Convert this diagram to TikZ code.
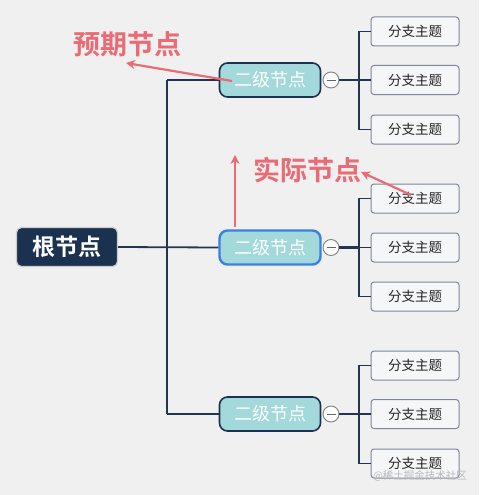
\documentclass[tikz,border=0pt]{standalone}
\usepackage{fontspec}
\newfontfamily\cjk{Noto Sans CJK SC}[BoldFont={* Bold}]
\usetikzlibrary{arrows.meta}
\definecolor{bg}{HTML}{F0F0F1}
\definecolor{navy}{HTML}{1B3150}
\definecolor{linec}{HTML}{24364F}
\definecolor{teal}{HTML}{A3D9DB}
\definecolor{blueb}{HTML}{3B7FE0}
\definecolor{branchb}{HTML}{7D8799}
\definecolor{branchf}{HTML}{F5F6F8}
\definecolor{redc}{HTML}{EA6B74}
\tikzset{
  rootbox/.style={draw=gray!40, line width=1.2pt, fill=navy, rounded corners=5pt, minimum width=101pt, minimum height=39pt, text=white, font=\cjk\bfseries\fontsize{23}{25}\selectfont, inner sep=0pt},
  secbox/.style={draw=navy, line width=1.6pt, fill=teal, rounded corners=8pt, minimum width=101pt, minimum height=34pt, text=white, font=\cjk\fontsize{18}{20}\selectfont, inner sep=0pt},
  actbox/.style={secbox, draw=blueb, line width=2.4pt},
  brbox/.style={draw=branchb, line width=1pt, fill=branchf, rounded corners=3pt, minimum width=88pt, minimum height=29pt, text=black!85, font=\cjk\fontsize{13.5}{15}\selectfont, inner sep=0pt},
  foldc/.style={circle, draw=gray, line width=0.9pt, fill=white, minimum size=16pt, inner sep=0pt},
  conn/.style={draw=linec, line width=1.8pt},
  redlab/.style={text=redc, font=\cjk\bfseries\fontsize{27}{29}\selectfont, inner sep=0pt},
  redarr/.style={draw=redc, line width=2.2pt, -{Stealth[length=9pt,width=9pt]}},
}
\begin{document}
\begin{tikzpicture}[x=1pt,y=-1pt]
\fill[bg] (0,0) rectangle (479,495);
\useasboundingbox (0,0) rectangle (479,495);

\node[rootbox] (root) at (67,247) {根节点};
\node[secbox] (s1) at (270,80) {二级节点};
\node[actbox] (s2) at (270,247.5) {二级节点};
\node[secbox] (s3) at (270,414) {二级节点};

\coordinate (t1) at (167,80);
\coordinate (t3) at (167,414);
\draw[conn] (root.east) -- (s2.west);
\draw[conn] (t1) -- (s1.west);
\draw[conn] (t3) -- (s3.west);
\draw[conn] (t1) -- (t3);

\foreach \i/\y/\a/\b/\c in {1/80/31.5/80/129.5, 2/247.5/198.5/247.5/296.5, 3/414/365.5/414/463.5}{
  \node[foldc] (f\i) at (331,\y) {};
  \draw[line width=1pt, gray!80!black] ([xshift=-4.5pt]f\i.center) -- ([xshift=4.5pt]f\i.center);
  \node[brbox] (b\i a) at (415,\a) {分支主题};
  \node[brbox] (b\i b) at (415,\b) {分支主题};
  \node[brbox] (b\i c) at (415,\c) {分支主题};
  \coordinate (j\i) at (359,\y);
  \draw[draw=linec, line width=2.6pt] (f\i.east) -- (j\i);
  \draw[conn] (b\i a.west) -| (j\i) |- (b\i c.west);
  \draw[conn] (j\i) -- (b\i b.west);
}

\node[redlab] (exp) at (127,44) {预期节点};
\node[redlab] (act) at (307,170) {实际节点};
\coordinate (e1) at (232,81);
\coordinate (e2) at (126,63);
\draw[redarr] (e1) -- (e2);
\coordinate (a1) at (235,227);
\coordinate (a2) at (235,155);
\draw[redarr] (a1) -- (a2);
\coordinate (c1) at (411,195);
\coordinate (c2) at (361,172);
\draw[redarr] (c1) -- (c2);

\node[text=gray!55, font=\cjk\fontsize{10.5}{12}\selectfont, inner sep=0pt] (wm) at (420,476) {@稀土掘金技术社区};
\end{tikzpicture}
\end{document}
